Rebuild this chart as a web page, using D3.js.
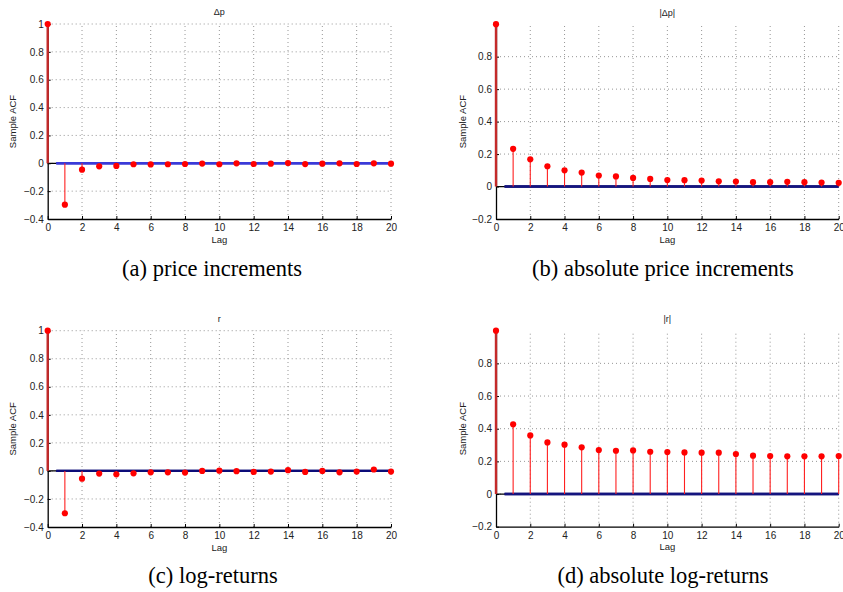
<!DOCTYPE html>
<html><head><meta charset="utf-8">
<script src="https://cdn.jsdelivr.net/npm/d3@7"></script>
<style>body{margin:0;background:#fff}svg{display:block}</style>
</head><body>
<script>
// ---------- data ----------
const lags = [0,1,2,3,4,5,6,7,8,9,10,11,12,13,14,15,16,17,18,19,20];
const acfPriceIncrements = [1,-0.297,-0.046,-0.022,-0.019,-0.007,-0.008,-0.007,-0.005,-0.002,-0.007,0.0,-0.005,-0.003,0.002,-0.006,-0.003,0.0,-0.005,0.0,-0.003];
const acfAbsPriceIncrements = [1,0.232,0.168,0.125,0.100,0.086,0.068,0.062,0.053,0.047,0.040,0.039,0.037,0.032,0.031,0.027,0.027,0.029,0.027,0.025,0.023];
const acfLogReturns = [1,-0.302,-0.055,-0.019,-0.024,-0.017,-0.010,-0.010,-0.012,0.0,0.002,-0.002,-0.007,-0.005,0.005,-0.007,0.0,-0.010,-0.005,0.010,-0.005];
const acfAbsLogReturns = [1,0.427,0.359,0.316,0.302,0.286,0.269,0.265,0.267,0.259,0.257,0.255,0.253,0.253,0.245,0.235,0.233,0.231,0.231,0.231,0.233];
const confBound = 0.0; // bounds are ~0 (large sample)
const panelTitles = ["\u0394p", "|\u0394p|", "r", "|r|"];
const captions = ["(a) price increments", "(b) absolute price increments", "(c) log-returns", "(d) absolute log-returns"];
const xTickValues = [0,2,4,6,8,10,12,14,16,18,20];
const yTicksSigned = [-0.4,-0.2,0,0.2,0.4,0.6,0.8,1];
const yTicksAbs = [-0.2,0,0.2,0.4,0.6,0.8];
const xLabel = "Lag";
const yLabel = "Sample ACF";

// ---------- layout ----------
const W = 843, H = 592;
const svg = d3.select("body").append("svg").attr("width", W).attr("height", H);

const panels = [
  {values: acfPriceIncrements,    title: panelTitles[0], caption: captions[0], yDomain: [-0.4, 1], yTicks: yTicksSigned, L: 47.7, R: 391, T: 24,    B: 219,   blue: "#3a3ad8", capX: 212, capY: 271},
  {values: acfAbsPriceIncrements, title: panelTitles[1], caption: captions[1], yDomain: [-0.2, 1], yTicks: yTicksAbs,    L: 496,  R: 838.7, T: 24.2, B: 219,   blue: "#14147e", capX: 663, capY: 271},
  {values: acfLogReturns,         title: panelTitles[2], caption: captions[2], yDomain: [-0.4, 1], yTicks: yTicksSigned, L: 47.7, R: 391, T: 330.7,  B: 527,   blue: "#0c0c78", capX: 213, capY: 578},
  {values: acfAbsLogReturns,      title: panelTitles[3], caption: captions[3], yDomain: [-0.2, 1], yTicks: yTicksAbs,    L: 496,  R: 838.7, T: 330.7, B: 526.7, blue: "#14147e", capX: 663, capY: 578}
];

const sans = "'Liberation Sans', Arial, Helvetica, sans-serif";
const fmt = d => (d < 0 ? "\u2212" : "") + String(Math.abs(d));

panels.forEach(p => {
  const x = d3.scaleLinear().domain([0, 20]).range([p.L, p.R]);
  const y = d3.scaleLinear().domain(p.yDomain).range([p.B, p.T]);
  const g = svg.append("g");

  // grid
  g.append("g").selectAll("line.h").data(p.yTicks.filter(v => v !== p.yDomain[0]))
    .join("line")
    .attr("x1", x(0)).attr("x2", x(20))
    .attr("y1", d => y(d)).attr("y2", d => y(d))
    .attr("stroke", "#8a8a8a").attr("stroke-width", 0.9).attr("stroke-dasharray", "1,3");
  g.append("g").selectAll("line.v").data(xTickValues.filter(v => v !== 0))
    .join("line")
    .attr("x1", d => x(d)).attr("x2", d => x(d))
    .attr("y1", y(p.yDomain[0])).attr("y2", y(1))
    .attr("stroke", "#8a8a8a").attr("stroke-width", 0.9).attr("stroke-dasharray", "1,3");

  // axes
  const ax = g.append("g").attr("transform", `translate(${p.L},0)`)
    .call(d3.axisLeft(y).tickValues(p.yTicks).tickFormat(fmt).tickSizeInner(-3).tickSizeOuter(0).tickPadding(4));
  const bx = g.append("g").attr("transform", `translate(0,${p.B})`)
    .call(d3.axisBottom(x).tickValues(xTickValues).tickFormat(fmt).tickSizeInner(-3).tickSizeOuter(0).tickPadding(5));
  [ax, bx].forEach(a => {
    a.select(".domain").attr("stroke", "#000").attr("stroke-width", 1.3);
    a.selectAll(".tick line").attr("stroke", "#000").attr("stroke-width", 1);
    a.selectAll(".tick text").attr("fill", "#222").style("font-family", sans).style("font-size", "10px");
  });

  // zero line + confidence bounds
  g.append("line").attr("x1", x(0)).attr("x2", x(20)).attr("y1", y(0)).attr("y2", y(0))
    .attr("stroke", "#000").attr("stroke-width", 1.2);
  [confBound, -confBound].forEach(b => {
    g.append("line").attr("x1", x(0.5)).attr("x2", x(20)).attr("y1", y(b)).attr("y2", y(b))
      .attr("stroke", p.blue).attr("stroke-width", 2.4);
  });

  // stems
  g.append("g").selectAll("line").data(lags)
    .join("line")
    .attr("x1", d => x(d)).attr("x2", d => x(d))
    .attr("y1", y(0)).attr("y2", (d, i) => y(p.values[i]))
    .attr("stroke", d => d === 0 ? "#c42a2a" : "#ff2020")
    .attr("stroke-width", d => d === 0 ? 2.4 : 1.1);
  g.append("g").selectAll("circle").data(lags)
    .join("circle")
    .attr("cx", d => x(d)).attr("cy", (d, i) => y(p.values[i]))
    .attr("r", 3.1).attr("fill", "#ff0000");

  // texts
  g.append("text").attr("x", (p.L + p.R) / 2).attr("y", p.T - 11)
    .attr("text-anchor", "middle").attr("dominant-baseline", "middle")
    .style("font-family", sans).style("font-size", "9px").attr("fill", "#222").text(p.title);
  g.append("text").attr("x", (p.L + p.R) / 2).attr("y", p.B + 21)
    .attr("text-anchor", "middle").attr("dominant-baseline", "middle")
    .style("font-family", sans).style("font-size", "9.5px").attr("fill", "#222").text(xLabel);
  const ylx = p.yDomain[0] === -0.4 ? p.L - 34 : p.L - 33;
  g.append("text")
    .attr("transform", `translate(${ylx},${(p.T + p.B) / 2}) rotate(-90)`)
    .attr("text-anchor", "middle").attr("dominant-baseline", "middle")
    .style("font-family", sans).style("font-size", "9.5px").attr("fill", "#222").text(yLabel);

  // caption
  svg.append("text").attr("x", p.capX).attr("y", p.capY)
    .attr("text-anchor", "middle").attr("dominant-baseline", "middle")
    .style("font-family", "'Liberation Serif', 'Times New Roman', serif").style("font-size", "22.5px")
    .attr("fill", "#000").text(p.caption);
});
</script>
</body></html>
